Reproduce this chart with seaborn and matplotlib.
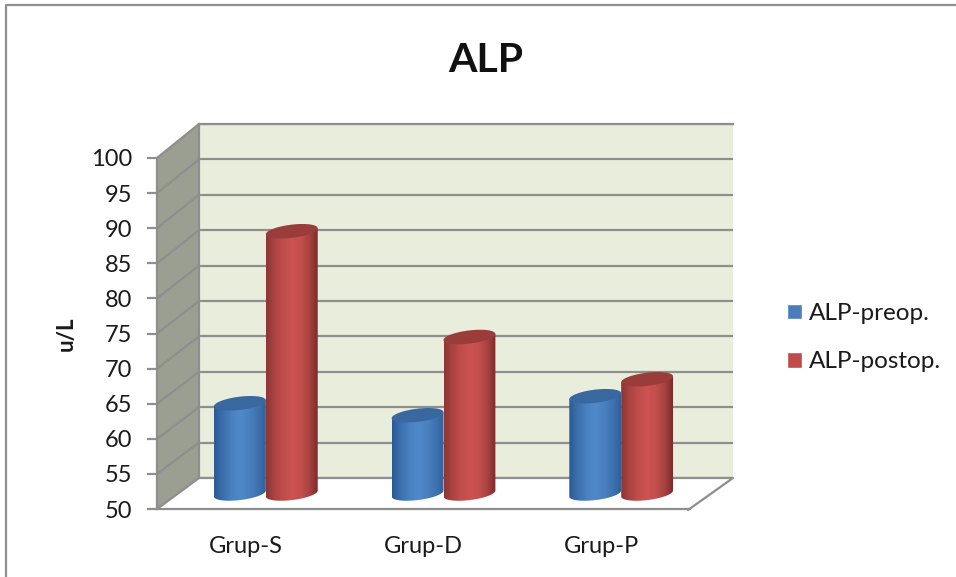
import numpy as np
import pandas as pd
import seaborn as sns
import matplotlib
matplotlib.use("Agg")
import matplotlib.pyplot as plt
from matplotlib.colors import LinearSegmentedColormap
from matplotlib.patches import Polygon
from matplotlib.transforms import ScaledTranslation

GROUPS = ["Grup-S", "Grup-D", "Grup-P"]
SERIES = ["ALP-preop.", "ALP-postop."]
PREOP = [62.8, 61.1, 63.8]
POSTOP = [87.2, 72.2, 66.2]
YTICKS = [50, 55, 60, 65, 70, 75, 80, 85, 90, 95, 100]

W, H = 956, 577
GRID = "#8e8e8e"
WALL = "#e9eedc"
SIDE = "#9a9f92"
TEXT = "#1a1a1a"
BLUE = "#4a7ebb"
RED = "#be4b48"


def make_axes(fig, left, right, top, bottom, zorder):
    ax = fig.add_axes([left / W, 1 - bottom / H, (right - left) / W, (bottom - top) / H])
    ax.set_zorder(zorder)
    ax.set_xlim(-0.5, len(GROUPS) - 0.5)
    ax.set_ylim(YTICKS[0], YTICKS[-1])
    ax.set_yticks(YTICKS)
    return ax


def cylinder(ax, bar, ry, tilt, colors, top_color, z):
    # ry and tilt are in data units, the ellipses lean up to the right
    x0, w, top = bar.get_x(), bar.get_width(), bar.get_height()
    base = YTICKS[0]
    cx = x0 + w / 2
    t = np.linspace(0, 2 * np.pi, 80)

    low = np.linspace(np.pi, 2 * np.pi, 40)
    body_x = cx + w / 2 * np.cos(low)
    body_y = base + ry * np.sin(low) + tilt * np.cos(low)
    xs = np.r_[x0, body_x, x0 + w]
    ys = np.r_[top - tilt, body_y, top + tilt]
    body = Polygon(np.c_[xs, ys], closed=True, transform=ax.transData, fc="none", ec="none")
    body.set_clip_on(False)
    ax.add_patch(body)

    cmap = LinearSegmentedColormap.from_list("cyl", colors)
    im = ax.imshow(np.linspace(0, 1, 256)[None, :], cmap=cmap, aspect="auto",
                   extent=[x0, x0 + w, base - 2 * ry, top + 2 * ry], zorder=z)
    im.set_clip_path(body)
    im.set_clip_box(ax.figure.bbox)

    cap = Polygon(np.c_[cx + w / 2 * np.cos(t), top + ry * np.sin(t) + tilt * np.cos(t)],
                  closed=True, fc=top_color, ec="none", zorder=z)
    cap.set_clip_on(False)
    ax.add_patch(cap)


df = pd.DataFrame({
    "group": GROUPS * 2,
    "series": [SERIES[0]] * 3 + [SERIES[1]] * 3,
    "value": PREOP + POSTOP,
})

sns.set_style("white")
plt.rcParams["font.family"] = ["Lato", "DejaVu Sans"]

fig = plt.figure(figsize=(W / 100, H / 100), dpi=100, facecolor="white")

# page layer in pixel coordinates: frame, side wall
bg = fig.add_axes([0, 0, 1, 1], zorder=0)
bg.set_xlim(0, W)
bg.set_ylim(H, 0)
bg.axis("off")
bg.plot([6, 6, W], [H, 5, 5], color="#8f8f8f", lw=1.6, solid_capstyle="butt")
bg.add_patch(Polygon([[157, 158], [199, 124], [199, 478], [157, 509]], closed=True, fc=SIDE, ec="none"))

# back wall
back = make_axes(fig, 199, 733, 124, 478, 1)
back.set_facecolor(WALL)
back.set_xticks([])
back.set_yticklabels([])
back.tick_params(left=False)
back.grid(axis="y", color=GRID, lw=1.6)
back.set_axisbelow(True)
sns.despine(ax=back, top=False, right=True, left=False, bottom=True)
for side in ["top", "left"]:
    back.spines[side].set_color(GRID)
    back.spines[side].set_linewidth(1.6)

# floor and side wall lines on top of the back wall
top = fig.add_axes([0, 0, 1, 1], zorder=2)
top.set_xlim(0, W)
top.set_ylim(H, 0)
top.axis("off")
top.add_patch(Polygon([[157, 509], [199, 478], [733, 478], [690, 509]], closed=True, fc="white", ec="none"))
top.plot([157, 199], [509, 478], color=GRID, lw=1.6)
top.plot([199, 733, 688], [478, 478, 510], color=GRID, lw=1.6)
for v in YTICKS[1:]:
    frac = (v - YTICKS[0]) / (YTICKS[-1] - YTICKS[0])
    top.plot([157, 199], [509 - 351 * frac, 478 - 354 * frac], color=GRID, lw=1.6)

# cylinders sit half way between the front axis and the back wall
ax = make_axes(fig, 177, 710, 141, 493.5, 3)
ax.patch.set_alpha(0)
sns.barplot(data=df, x="group", y="value", hue="series", order=GROUPS, hue_order=SERIES,
            palette=[BLUE, RED], width=0.584, gap=0, saturation=1, errorbar=None, ax=ax)
ax.axis("off")

handles, labels = ax.get_legend_handles_labels()
ax.legend(handles, labels, loc="upper left", bbox_to_anchor=(787 / W, 1 - 303 / H),
          bbox_transform=fig.transFigure, frameon=False, fontsize=17.5, labelcolor=TEXT,
          handlelength=0.62, handleheight=0.62, handletextpad=0.28, labelspacing=1.12,
          borderpad=0, borderaxespad=0)

px = 7.05  # pixels per unit of y on the cylinder plane
blue_cols = ["#2c5a92", "#3b70ae", "#4a80c0", "#5089c9", "#4a81c0", "#3f74b2", "#30609a"]
red_cols = ["#8a3634", "#ab4442", "#c04d4b", "#cc5351", "#c44f4d", "#a84341", "#7c2b2a"]
for i, (container, colors, cap_color) in enumerate(zip(ax.containers, [blue_cols, red_cols], ["#38689f", "#993c3a"])):
    for bar in container:
        cylinder(ax, bar, 6.6 / px, 3 / px, colors, cap_color, 3 + i)
        bar.set_alpha(0)
ax.set_xlim(-0.5, len(GROUPS) - 0.5)
ax.set_ylim(YTICKS[0], YTICKS[-1])

# front axis with the tick labels
front = make_axes(fig, 157, 690, 158, 509, 4)
front.patch.set_alpha(0)
front.set_xticks(range(len(GROUPS)))
front.set_xticklabels(GROUPS, fontsize=17, color=TEXT)
shift = ScaledTranslation(-2 / 100, 0, fig.dpi_scale_trans)
for label in front.get_xticklabels():
    label.set_transform(label.get_transform() + shift)
front.set_yticklabels([str(v) for v in YTICKS], fontsize=17, color=TEXT)
front.tick_params(axis="y", left=True, length=7, width=1.6, color=GRID, pad=11)
front.tick_params(axis="x", bottom=False, pad=16)
sns.despine(ax=front)
for side in ["left", "bottom"]:
    front.spines[side].set_color(GRID)
    front.spines[side].set_linewidth(1.6)
front.set_ylabel("u/L", fontsize=16, fontweight="bold", color=TEXT)
front.yaxis.set_label_coords((77 - 157) / (690 - 157), (509 - 334) / 351)

fig.text(486 / W, 1 - 60 / H, "ALP", fontsize=29.5, fontweight="bold", color="#111111", ha="center", va="center")

fig.savefig("out.png", dpi=100)
